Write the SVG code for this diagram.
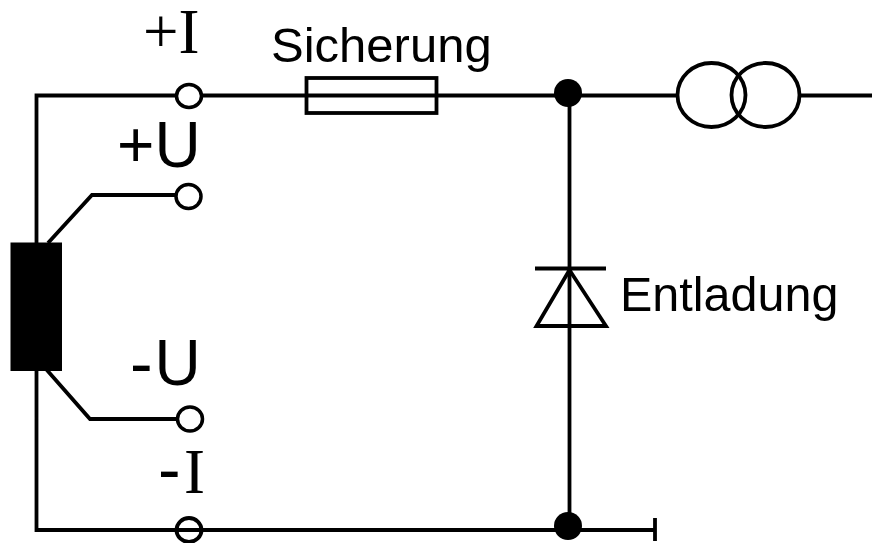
<svg xmlns="http://www.w3.org/2000/svg" width="872" height="543" viewBox="0 0 872 543">
<style>
.w{fill:none;stroke:#000;stroke-width:3.800}
.o{fill:#fff;stroke:#000;stroke-width:3.500}
.s{font-family:"Liberation Sans",Arial,sans-serif;fill:#000}
.t{font-family:"Liberation Serif","Times New Roman",serif;fill:#000}
</style>
<rect width="872" height="543" fill="#fff"/>
<g id="connectors">
<path class="w" d="M176 95.500H36.500V243M36.500 370V530H655M202 95.500H676M801 95.500H872M655 518V541M569.500 95V529M202 195H92L48 243M46 369L90 419H176"/>
</g>
<g id="terminal-plus-i"><ellipse class="o" cx="189" cy="96" rx="12.500" ry="11.500"/><text class="t" x="143" y="52.500" font-size="63">+I</text></g>
<g id="terminal-plus-u"><ellipse class="o" cx="188.500" cy="196.500" rx="12.500" ry="12"/><text class="s" x="117" y="166.500" font-size="64">+U</text></g>
<g id="terminal-minus-u"><ellipse class="o" cx="190" cy="419" rx="12.500" ry="12"/><text class="s" font-size="64" y="384.500"><tspan x="130" font-size="68" dy="2">-</tspan><tspan x="154.500" dy="-2">U</tspan></text></g>
<g id="terminal-minus-i"><ellipse class="w" cx="189" cy="530" rx="12.500" ry="12"/><text class="t" font-size="63" y="493"><tspan class="s" x="158" font-size="68">-</tspan><tspan x="184">I</tspan></text></g>
<g id="sensor"><rect x="10.500" y="242.500" width="51.500" height="128.500" fill="#000"/></g>
<g id="fuse"><rect class="w" x="306.500" y="78" width="130" height="35"/><text class="s" x="271" y="61.500" font-size="49">Sicherung</text></g>
<g id="junction-top"><circle cx="568" cy="93" r="14"/></g>
<g id="junction-bottom"><circle cx="568" cy="526" r="14"/></g>
<g id="diode"><path class="w" d="M535 268.500H606M569.500 270L536.500 326H606Z"/><text class="s" x="620" y="311" font-size="48.500">Entladung</text></g>
<g id="transformer"><ellipse class="w" cx="711.500" cy="95" rx="34" ry="32"/><ellipse class="w" cx="765.500" cy="95" rx="34" ry="32"/></g>
</svg>
